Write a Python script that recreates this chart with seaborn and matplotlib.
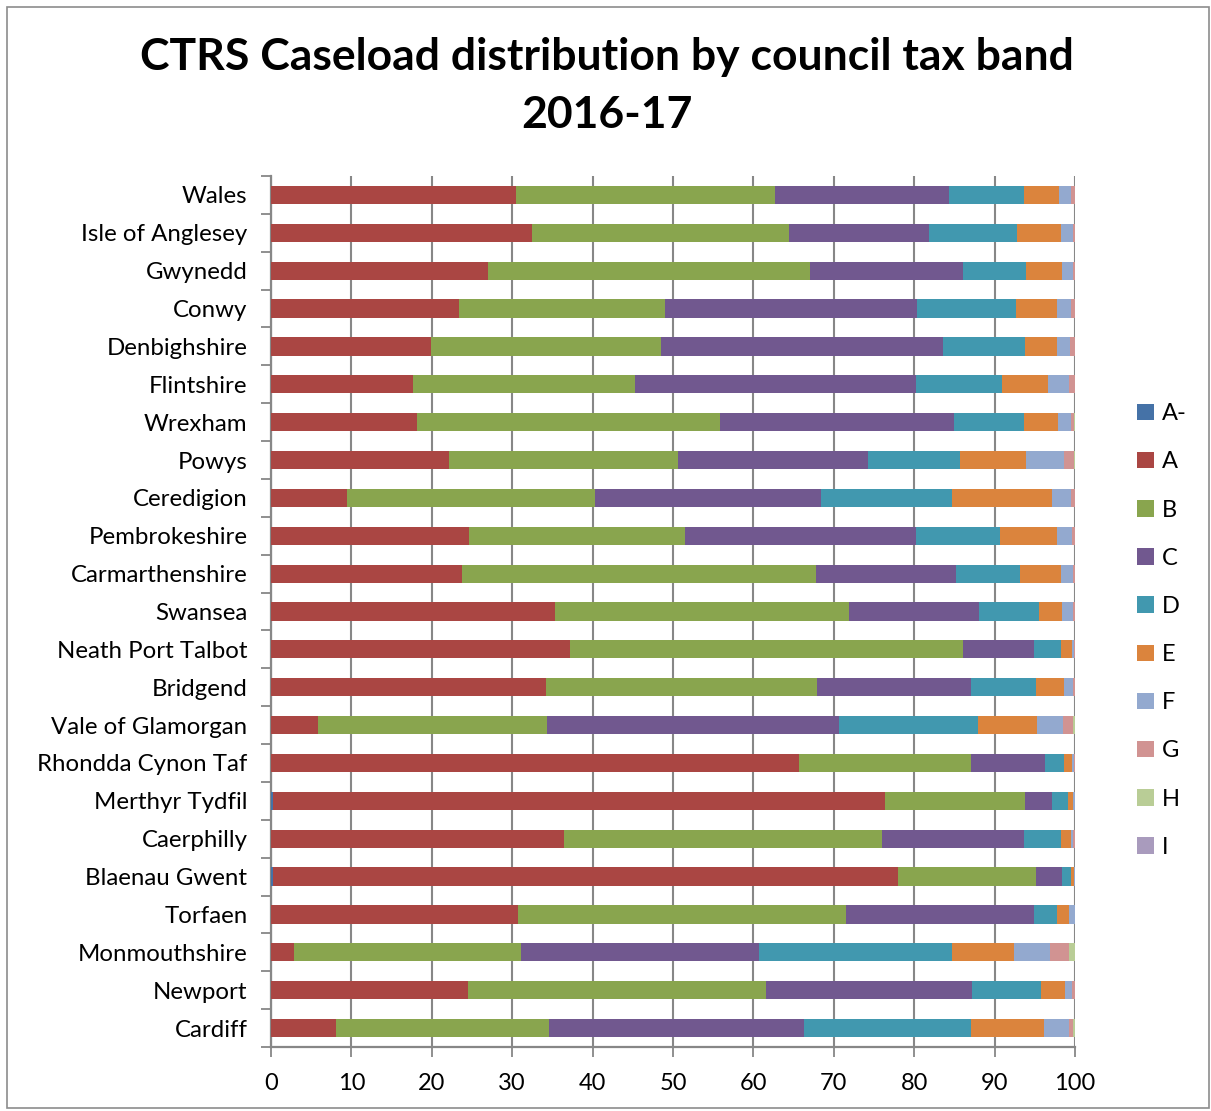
import numpy as np
import pandas as pd
import matplotlib
matplotlib.use("Agg")
import matplotlib.pyplot as plt
from matplotlib.patches import Patch, Rectangle
import seaborn as sns

councils = ["Wales", "Isle of Anglesey", "Gwynedd", "Conwy", "Denbighshire", "Flintshire",
            "Wrexham", "Powys", "Ceredigion", "Pembrokeshire", "Carmarthenshire", "Swansea",
            "Neath Port Talbot", "Bridgend", "Vale of Glamorgan", "Rhondda Cynon Taf",
            "Merthyr Tydfil", "Caerphilly", "Blaenau Gwent", "Torfaen", "Monmouthshire",
            "Newport", "Cardiff"]

bands = ["A-", "A", "B", "C", "D", "E", "F", "G", "H", "I"]

band_am = [0.05, 0.05, 0.05, 0.05, 0.05, 0.05, 0.05, 0.05, 0.05, 0.05, 0.05, 0.05,
           0.05, 0.05, 0.05, 0.05, 0.3, 0.05, 0.3, 0.05, 0.05, 0.05, 0.05]
band_a = [30.45, 32.45, 26.95, 23.35, 19.85, 17.65, 18.15, 22.05, 9.45, 24.55, 23.75, 35.25,
          37.15, 34.15, 5.75, 65.65, 76.1, 36.45, 77.7, 30.65, 2.85, 24.45, 8.05]
band_b = [32.2, 31.9, 40.1, 25.6, 28.6, 27.6, 37.6, 28.5, 30.8, 26.9, 44.0, 36.6,
          48.9, 33.7, 28.5, 21.4, 17.4, 39.5, 17.1, 40.8, 28.2, 37.1, 26.5]
band_c = [21.6, 17.4, 19.0, 31.3, 35.1, 34.9, 29.1, 23.7, 28.1, 28.7, 17.4, 16.2,
          8.8, 19.2, 36.3, 9.2, 3.4, 17.6, 3.3, 23.4, 29.6, 25.6, 31.7]
band_d = [9.4, 11.0, 7.8, 12.4, 10.2, 10.7, 8.7, 11.4, 16.3, 10.5, 8.0, 7.4,
          3.4, 8.1, 17.3, 2.3, 1.9, 4.7, 1.1, 2.9, 24.0, 8.6, 20.8]
band_e = [4.3, 5.5, 4.5, 5.1, 4.0, 5.8, 4.3, 8.2, 12.5, 7.1, 5.1, 2.9,
          1.3, 3.4, 7.4, 1.0, 0.7, 1.2, 0.4, 1.5, 7.7, 2.9, 9.0]
band_f = [1.5, 1.5, 1.4, 1.7, 1.6, 2.6, 1.6, 4.7, 2.3, 1.8, 1.5, 1.4,
          0.3, 1.2, 3.2, 0.3, 0.2, 0.3, 0.1, 0.7, 4.5, 0.9, 3.2]
band_g = [0.45, 0.2, 0.2, 0.5, 0.6, 0.7, 0.4, 1.3, 0.5, 0.4, 0.2, 0.2,
          0.1, 0.2, 1.3, 0.1, 0.0, 0.2, 0.0, 0.0, 2.4, 0.4, 0.5]
band_h = [0.05, 0.0, 0.0, 0.0, 0.0, 0.0, 0.1, 0.1, 0.0, 0.0, 0.0, 0.0,
          0.0, 0.0, 0.2, 0.0, 0.0, 0.0, 0.0, 0.0, 0.7, 0.0, 0.2]
band_i = [0.0] * 23

colors = ["#4572A7", "#AA4643", "#89A54E", "#71588F", "#4198AF",
          "#DB843D", "#93A9CF", "#D19392", "#B9CD96", "#A99BBD"]

series = [band_am, band_a, band_b, band_c, band_d, band_e, band_f, band_g, band_h, band_i]
df = pd.DataFrame({b: s for b, s in zip(bands, series)})
df["council"] = councils
cum = df[bands].cumsum(axis=1)
cum["council"] = councils

sns.set_style("white")
plt.rcParams["font.family"] = ["Lato", "DejaVu Sans"]
plt.rcParams["text.color"] = "black"
plt.rcParams["xtick.labelcolor"] = "black"
plt.rcParams["ytick.labelcolor"] = "black"

fig = plt.figure(figsize=(12.11, 11.11), dpi=100)
ax = fig.add_axes([271 / 1211, 64 / 1111, 804 / 1211, 871 / 1111])

for b, c in reversed(list(zip(bands, colors))):
    sns.barplot(data=cum, x=b, y="council", order=councils, orient="h", color=c,
                saturation=1, width=0.48, errorbar=None, linewidth=0, ax=ax, zorder=3)

ax.set_xlim(0, 100)
ax.set_ylim(22.5, -0.5)
ax.set_xticks(np.arange(0, 101, 10))
ax.set_xlabel("")
ax.set_ylabel("")
ax.grid(axis="x", color="#878787", linewidth=1.5, zorder=0)
ax.set_axisbelow(True)
for s in ["top", "right"]:
    ax.spines[s].set_visible(False)
for s in ["left", "bottom"]:
    ax.spines[s].set_color("#878787")
    ax.spines[s].set_linewidth(1.6)

ax.tick_params(axis="x", labelsize=17, length=7, width=1.3, color="#878787", pad=12,
               direction="out", bottom=True, labelcolor="black")
ax.tick_params(axis="y", which="major", labelsize=17.3, length=0, pad=17, labelcolor="black")
ax.set_yticks(np.arange(-0.5, 23, 1), minor=True)
ax.tick_params(axis="y", which="minor", length=7, width=1.3, color="#878787",
               direction="out", left=True)

handles = [Patch(facecolor=c, edgecolor="none", label=b) for b, c in zip(bands, colors)]
fig.legend(handles=handles, loc="center left", bbox_to_anchor=(1137 / 1211, 0.4325),
           frameon=False, fontsize=17, handlelength=0.7, handleheight=0.7,
           handletextpad=0.35, labelspacing=1.15, borderpad=0, borderaxespad=0,
           labelcolor="black")

fig.text(0.5015, 1 - 57 / 1111, "CTRS Caseload distribution by council tax band",
         ha="center", va="center", fontsize=32, fontweight="bold", color="black")
fig.text(0.5015, 1 - 115 / 1111, "2016-17", ha="center", va="center",
         fontsize=32, fontweight="bold", color="black")

fig.patches.append(Rectangle((7 / 1211, 0.003), 1 - 9 / 1211, 1 - 10 / 1111,
                             transform=fig.transFigure, fill=False,
                             edgecolor="#8c8c8c", linewidth=1.2))

fig.savefig("out.png", dpi=100)
